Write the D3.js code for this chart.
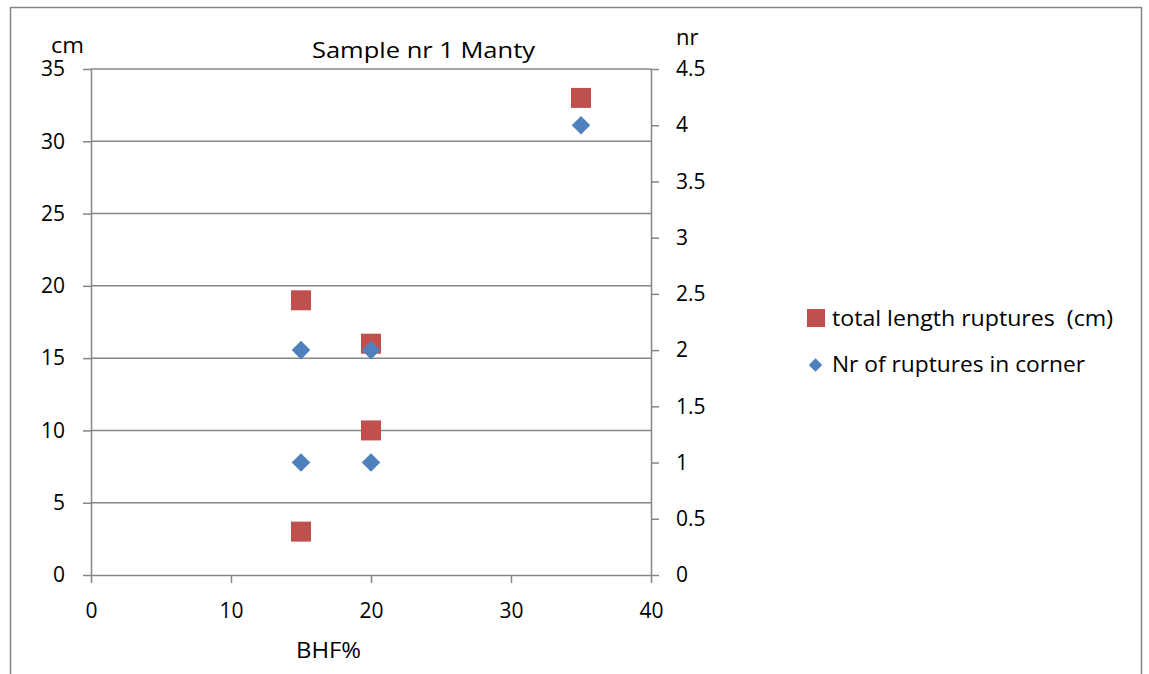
<!DOCTYPE html>
<html><head><meta charset="utf-8">
<script src="https://cdn.jsdelivr.net/npm/d3@7"></script>
<style>
html,body{margin:0;padding:0;background:#fff;}
svg text{font-family:"Open Sans",Lato,sans-serif;fill:#000;white-space:pre;}
</style></head>
<body>
<svg id="chart" width="1149" height="674"></svg>
<script>
const lengthX = [15, 15, 20, 20, 35];
const lengthY = [3, 19, 16, 10, 33];
const countX = [15, 15, 20, 20, 35];
const countY = [1, 2, 1, 2, 4];
const xTicks = [0, 10, 20, 30, 40];
const leftTicks = [0, 5, 10, 15, 20, 25, 30, 35];
const rightTicks = [0, 0.5, 1, 1.5, 2, 2.5, 3, 3.5, 4, 4.5];
const seriesNames = ["total length ruptures  (cm)", "Nr of ruptures in corner"];
const colors = ["#C0504D", "#4F81BD"];

const svg = d3.select("#chart");
const gray = "#868686";
const fs = 21;
const fs2 = 22;
const ff = "'Open Sans',Lato,sans-serif";

svg.append("rect").attr("x", 10.5).attr("y", 7.5).attr("width", 1131).attr("height", 700)
  .attr("fill", "none").attr("stroke", gray).attr("stroke-width", 1.5);

const x = d3.scaleLinear().domain([0, 40]).range([91, 651]);
const yL = d3.scaleLinear().domain([0, 35]).range([575, 69]);
const yR = d3.scaleLinear().domain([0, 4.5]).range([575, 69]);

// gridlines
svg.append("g").selectAll("line").data(leftTicks.slice(1)).join("line")
  .attr("x1", x(0)).attr("x2", x(40)).attr("y1", d => yL(d)).attr("y2", d => yL(d))
  .attr("stroke", gray).attr("stroke-width", 1.5);

function styleAxis(g) {
  g.selectAll("path").attr("stroke", gray).attr("stroke-width", 1.5);
  g.selectAll(".tick line").attr("stroke", gray).attr("stroke-width", 1.5);
  g.selectAll("text").attr("font-size", fs).attr("font-family", ff).attr("fill", "#000");
}

const gx = svg.append("g").attr("transform", `translate(0,${yL(0)})`)
  .call(d3.axisBottom(x).tickValues(xTicks).tickSize(8).tickSizeOuter(0).tickPadding(20).tickFormat(d3.format("d")));
styleAxis(gx);

const gl = svg.append("g").attr("transform", `translate(${x(0)},0)`)
  .call(d3.axisLeft(yL).tickValues(leftTicks).tickSize(8).tickSizeOuter(0).tickPadding(18).tickFormat(d3.format("d")));
styleAxis(gl);

const gr = svg.append("g").attr("transform", `translate(${x(40)},0)`)
  .call(d3.axisRight(yR).tickValues(rightTicks).tickSize(8).tickSizeOuter(0).tickPadding(17).tickFormat(d => String(d)));
styleAxis(gr);

// titles
svg.append("text").attr("x", 312).attr("y", 58).attr("font-size", fs2).attr("font-family", ff)
  .attr("textLength", 223).attr("lengthAdjust", "spacingAndGlyphs").text("Sample nr 1 Manty");
svg.append("text").attr("x", 51).attr("y", 53).attr("font-size", fs2).attr("font-family", ff)
  .attr("textLength", 33).attr("lengthAdjust", "spacingAndGlyphs").text("cm");
svg.append("text").attr("x", 676).attr("y", 45).attr("font-size", fs2).attr("font-family", ff).text("nr");
svg.append("text").attr("x", 296).attr("y", 658).attr("font-size", fs2).attr("font-family", ff)
  .attr("textLength", 65).attr("lengthAdjust", "spacingAndGlyphs").text("BHF%");

// series
const lenData = lengthX.map((v, i) => [v, lengthY[i]]);
const cntData = countX.map((v, i) => [v, countY[i]]);
const sq = 20;
svg.append("g").selectAll("rect").data(lenData).join("rect")
  .attr("x", d => x(d[0]) - sq / 2).attr("y", d => yL(d[1]) - sq / 2)
  .attr("width", sq).attr("height", sq).attr("fill", colors[0]);
const diamond = d3.symbol().type(d3.symbolDiamond2).size(220);
svg.append("g").selectAll("path").data(cntData).join("path")
  .attr("transform", d => `translate(${x(d[0])},${yR(d[1])})`)
  .attr("d", diamond).attr("fill", colors[1]);

// legend
const lg = svg.append("g");
lg.append("rect").attr("x", 807).attr("y", 309).attr("width", 18).attr("height", 18).attr("fill", colors[0]);
lg.append("path").attr("transform", "translate(815.5,365)").attr("d", d3.symbol().type(d3.symbolDiamond2).size(115)).attr("fill", colors[1]);
lg.append("text").attr("x", 832).attr("y", 326).attr("font-size", fs2).attr("font-family", ff)
  .attr("textLength", 281).attr("lengthAdjust", "spacingAndGlyphs").text(seriesNames[0]);
lg.append("text").attr("x", 832).attr("y", 372).attr("font-size", fs2).attr("font-family", ff)
  .attr("textLength", 253).attr("lengthAdjust", "spacingAndGlyphs").text(seriesNames[1]);
</script>
</body></html>
